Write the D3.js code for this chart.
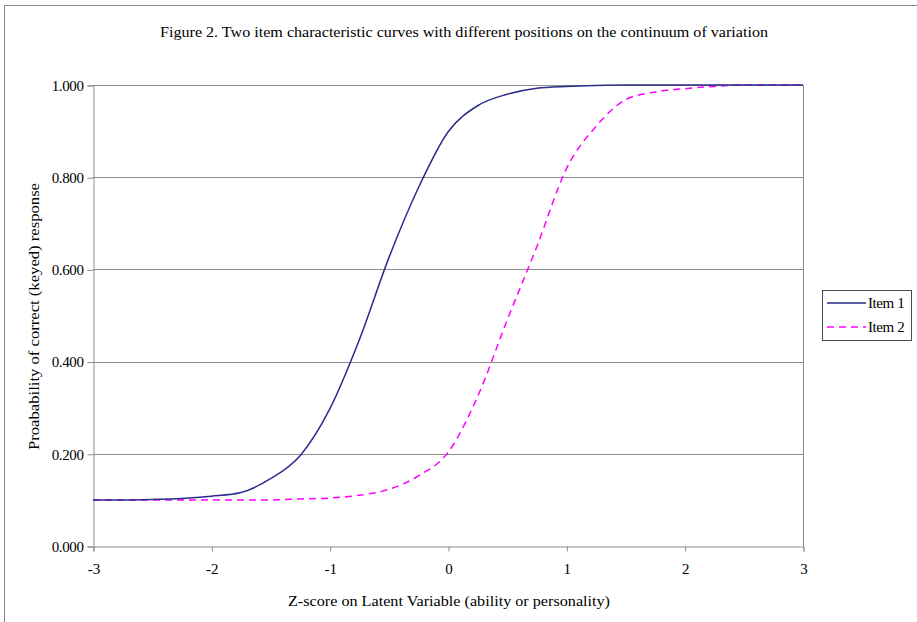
<!DOCTYPE html>
<html>
<head>
<meta charset="utf-8">
<script src="https://cdn.jsdelivr.net/npm/d3@7/dist/d3.min.js"></script>
<style>
  html, body { margin: 0; padding: 0; background: #fff; }
  svg { display: block; }
  svg text { font-family: "Liberation Serif", "Times New Roman", "DejaVu Serif", serif; fill: #000; }
</style>
</head>
<body>
<svg id="chart" width="917" height="622"></svg>
<script>
// ---- data ----
const zScores = [-3, -2.75, -2.5, -2.25, -2, -1.75, -1.5, -1.25, -1, -0.75, -0.5, -0.25, 0,
                 0.25, 0.5, 0.75, 1, 1.25, 1.5, 1.75, 2, 2.25, 2.5, 2.75, 3];
const item1 = [0.100, 0.100, 0.101, 0.103, 0.108, 0.116, 0.146, 0.196, 0.297, 0.447, 0.625, 0.777, 0.898,
               0.955, 0.980, 0.993, 0.997, 0.999, 1.000, 1.000, 1.000, 1.000, 1.000, 1.000, 1.000];
const item2 = [0.100, 0.100, 0.100, 0.100, 0.100, 0.100, 0.100, 0.102, 0.104, 0.110, 0.123, 0.152, 0.203,
               0.324, 0.490, 0.649, 0.818, 0.910, 0.968, 0.985, 0.992, 0.997, 1.000, 1.000, 1.000];
const seriesNames = ["Item 1", "Item 2"];
const xTicks = [-3, -2, -1, 0, 1, 2, 3];
const yTicks = [0, 0.2, 0.4, 0.6, 0.8, 1.0];
const titleText = "Figure 2. Two item characteristic curves with different positions on the continuum of variation";
const xTitle = "Z-score on Latent Variable (ability or personality)";
const yTitle = "Proabability of correct (keyed) response";

// ---- layout ----
const FONT = "'Liberation Serif', 'Times New Roman', 'DejaVu Serif', serif";
const svg = d3.select("#chart");
const pL = 93, pR = 803, pT = 85, pB = 546;
const x = d3.scaleLinear().domain([-3, 3]).range([pL, pR]);
const y = d3.scaleLinear().domain([0, 1]).range([pB, pT]);

// outer frame
svg.append("rect").attr("x", 4.5).attr("y", 5.5).attr("width", 930).attr("height", 640)
  .attr("fill", "none").attr("stroke", "#8c8c8c").attr("stroke-width", 1);

// title
svg.append("text").attr("x", 160).attr("y", 37)
  .attr("font-family", FONT).style("font-size", "15.5px")
  .attr("textLength", 608).attr("lengthAdjust", "spacingAndGlyphs").text(titleText);

// gridlines
svg.append("g").selectAll("line").data(yTicks.filter(d => d > 0)).join("line")
  .attr("x1", pL).attr("x2", pR)
  .attr("y1", d => Math.round(y(d)) + 0.5).attr("y2", d => Math.round(y(d)) + 0.5)
  .attr("stroke", "#8c8c8c").attr("stroke-width", 1);

// right border of plot
svg.append("line").attr("x1", pR + 0.5).attr("x2", pR + 0.5).attr("y1", pT).attr("y2", pB)
  .attr("stroke", "#8c8c8c");

// y axis
const yAxis = d3.axisLeft(y).tickValues(yTicks).tickFormat(d3.format(".3f")).tickSize(6).tickPadding(4);
const gy = svg.append("g").attr("transform", `translate(${pL + 0.5},0.5)`).call(yAxis);
gy.attr("font-family", FONT);
gy.select(".domain").attr("stroke", "#8c8c8c");
gy.selectAll(".tick line").attr("stroke", "#8c8c8c");
gy.selectAll(".tick text").style("font-size", "15px").attr("font-family", FONT)
  .style("letter-spacing", "-0.4px");

// x axis
const xAxis = d3.axisBottom(x).tickValues(xTicks).tickFormat(d3.format("d")).tickSize(5).tickPadding(12);
const gx = svg.append("g").attr("transform", `translate(0.5,${pB + 0.5})`).call(xAxis);
gx.attr("font-family", FONT);
gx.select(".domain").attr("stroke", "#8c8c8c");
gx.selectAll(".tick line").attr("stroke", "#8c8c8c");
gx.selectAll(".tick text").style("font-size", "15px").attr("font-family", FONT)
  .text(d => d < 0 ? "-" + Math.abs(d) : d);

// axis titles
svg.append("text").attr("x", 288).attr("y", 606)
  .attr("font-family", FONT).style("font-size", "15.5px")
  .attr("textLength", 322).attr("lengthAdjust", "spacingAndGlyphs").text(xTitle);
svg.append("text").attr("transform", `translate(39,450) rotate(-90)`)
  .attr("font-family", FONT).style("font-size", "15.5px")
  .attr("textLength", 267).attr("lengthAdjust", "spacingAndGlyphs").text(yTitle);

// lines
const line = d3.line().x(d => x(d[0])).y(d => y(d[1])).curve(d3.curveMonotoneX);
const d1 = zScores.map((z, i) => [z, item1[i]]);
const d2 = zScores.map((z, i) => [z, item2[i]]);
const colors = ["#2b2b8c", "#ff00ff"];
const dashes = [null, "7,5"];
svg.append("path").datum(d2).attr("d", line).attr("fill", "none")
  .attr("stroke", colors[1]).attr("stroke-width", 1.5).attr("stroke-dasharray", dashes[1]);
svg.append("path").datum(d1).attr("d", line).attr("fill", "none")
  .attr("stroke", colors[0]).attr("stroke-width", 1.5);

// legend
const lg = svg.append("g");
lg.append("rect").attr("x", 822.5).attr("y", 290.5).attr("width", 89).attr("height", 50)
  .attr("fill", "#fff").attr("stroke", "#222").attr("stroke-width", 0.8);
seriesNames.forEach((name, i) => {
  const yy = 303 + i * 24;
  lg.append("line").attr("x1", 827).attr("x2", 866).attr("y1", yy).attr("y2", yy)
    .attr("stroke", colors[i]).attr("stroke-width", 1.5).attr("stroke-dasharray", dashes[i]);
  lg.append("text").attr("x", 868).attr("y", yy + 5)
    .attr("font-family", FONT).style("font-size", "15px")
    .style("letter-spacing", "-0.4px").text(name);
});
</script>
</body>
</html>
